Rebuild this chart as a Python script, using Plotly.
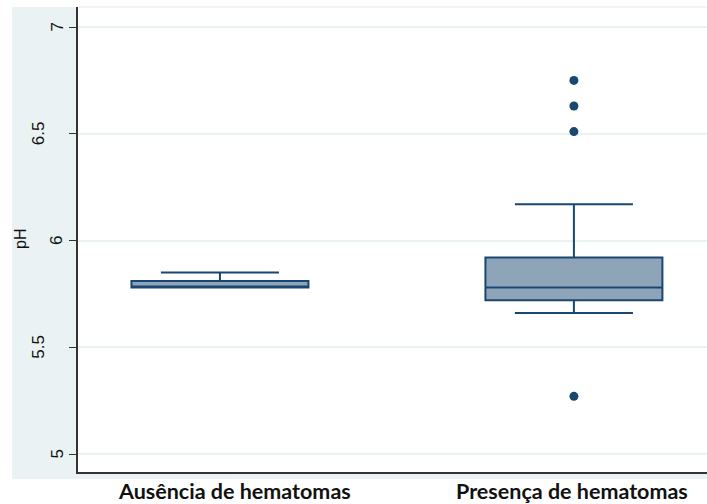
import plotly.graph_objects as go

categories = ["Ausência de hematomas", "Presença de hematomas"]
positions = [0, 1]
q1 = [5.78, 5.72]
median = [5.78, 5.78]
q3 = [5.81, 5.92]
lowerfence = [5.78, 5.66]
upperfence = [5.85, 6.17]
outlier_x = [1, 1, 1, 1]
outlier_y = [6.75, 6.63, 6.51, 5.27]
ytick_vals = [5, 5.5, 6, 6.5, 7]
ytick_text = ["5", "5.5", "6", "6.5", "7"]

LINE = "#1a476f"
FILL = "#8ea4b8"
BG = "#eaf2f3"

W, H = 707, 504
ML, MR, MT, MB = 78, 0, 7, 32
PW = W - ML - MR
PH = H - MT - MB

def px_x(p):
    return (p - ML) / PW

def px_y(p):
    return (H - MB - p) / PH

fig = go.Figure()
fig.add_trace(go.Box(
    x=positions, q1=q1, median=median, q3=q3,
    lowerfence=lowerfence, upperfence=upperfence,
    width=0.5, whiskerwidth=0.667, boxpoints=False,
    fillcolor=FILL, line=dict(color=LINE, width=2),
    showlegend=False,
))
fig.add_trace(go.Scatter(
    x=outlier_x, y=outlier_y, mode="markers",
    marker=dict(color=LINE, size=9), showlegend=False,
))

shapes = [
    dict(type="rect", xref="paper", yref="paper", x0=px_x(12), x1=0, y0=px_y(479), y1=1,
         fillcolor=BG, line=dict(width=0), layer="below"),
    dict(type="rect", xref="paper", yref="paper", x0=0, x1=1, y0=px_y(479), y1=0,
         fillcolor=BG, line=dict(width=0), layer="below"),
    dict(type="line", xref="paper", yref="paper", x0=0, x1=1, y0=1, y1=1,
         line=dict(color=BG, width=1.5), layer="below"),
]

annotations = []
for v, t in zip(ytick_vals, ytick_text):
    cx = 56.5 if "." not in t else 38.5
    annotations.append(dict(
        x=px_x(cx), xref="paper", y=v, yref="y", text=t, showarrow=False,
        textangle=-90, xanchor="center", yanchor="middle",
        font=dict(family="Liberation Sans", size=17, color="#111"),
    ))
annotations.append(dict(
    x=px_x(20), xref="paper", y=px_y(239), yref="paper", text="pH", showarrow=False,
    textangle=-90, xanchor="center", yanchor="middle",
    font=dict(family="Liberation Sans", size=16, color="#111"),
))
label_shift = [15, -2]
for p, c, s in zip(positions, categories, label_shift):
    annotations.append(dict(
        x=p, xref="x", y=px_y(491), yref="paper", text="<b>" + c + "</b>", showarrow=False,
        xanchor="center", yanchor="middle", xshift=s,
        font=dict(family="Lato", size=21.5, color="#111"),
    ))

fig.update_layout(
    width=W, height=H,
    margin=dict(l=ML, r=MR, t=MT, b=MB, pad=0),
    paper_bgcolor="white", plot_bgcolor="white",
    shapes=shapes, annotations=annotations,
    xaxis=dict(range=[-0.401, 1.376], showticklabels=False, ticks="",
               showgrid=False, zeroline=False, showline=True,
               linecolor="#333", linewidth=1.5),
    yaxis=dict(range=[4.9157, 7.0937], tickvals=ytick_vals, showticklabels=False,
               ticks="outside", ticklen=7, tickcolor="#333", tickwidth=1,
               showgrid=True, gridcolor=BG, gridwidth=1.5, zeroline=False,
               showline=True, linecolor="#333", linewidth=1.5),
)

fig.write_html("out.html", config={"displayModeBar": False},
               post_script="document.body.style.margin='0';document.body.style.overflow='hidden';")
